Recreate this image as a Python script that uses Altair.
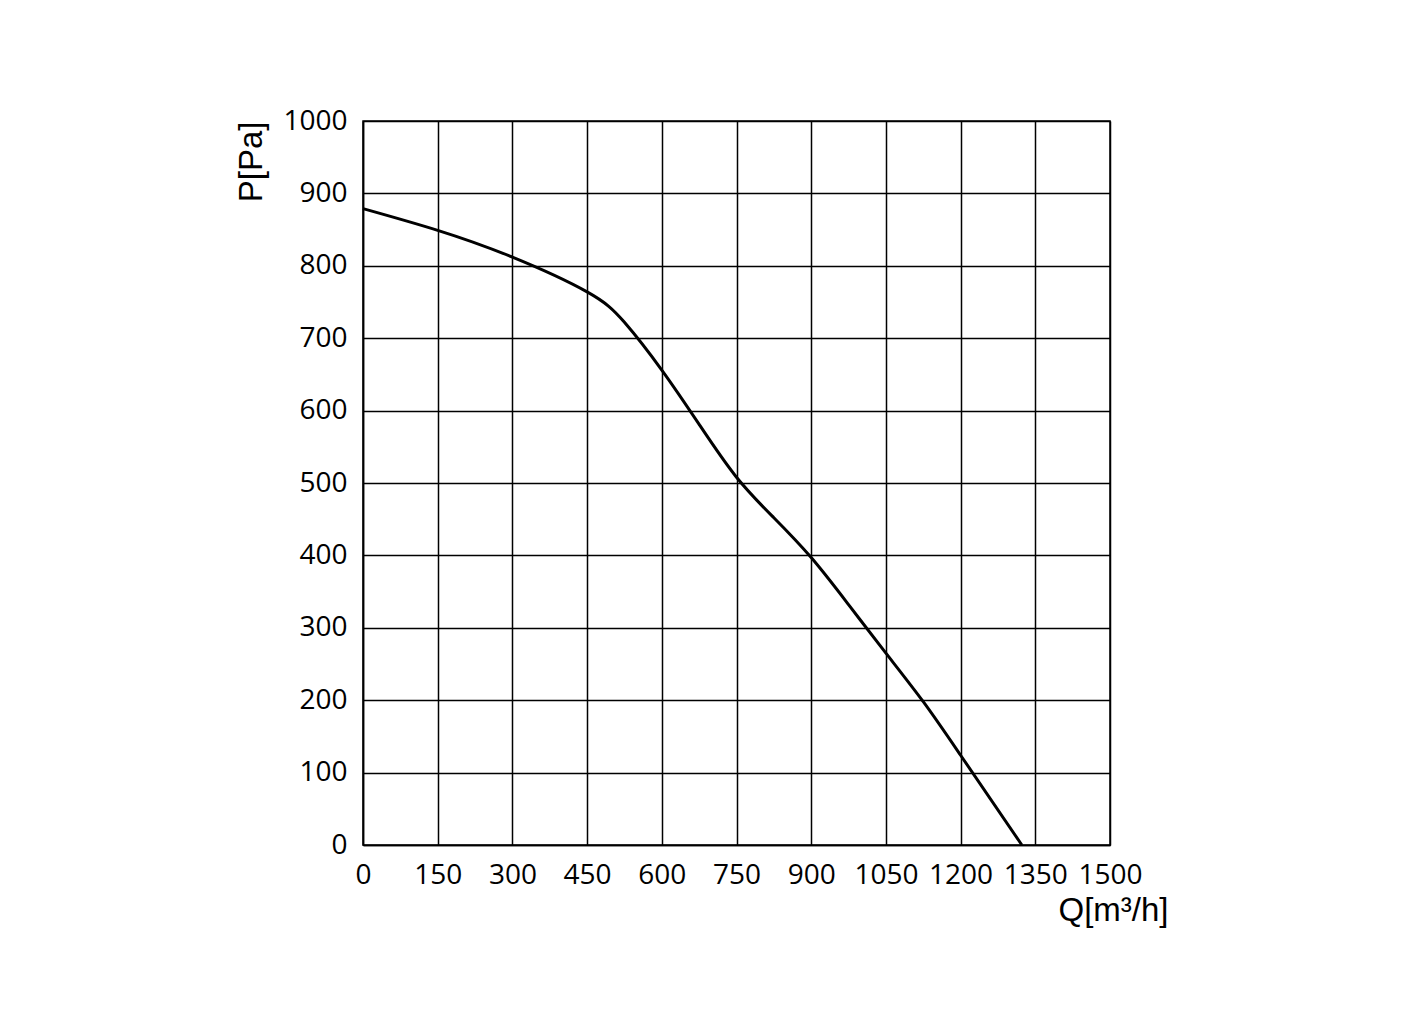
import altair as alt
import pandas as pd

# fan curve: flow Q [m3/h] vs pressure P [Pa]
flow = [0, 150, 300, 450, 525, 600, 675, 750, 825, 900, 975, 1050,
        1125, 1200, 1323]
pressure = [879, 849, 812, 764, 722, 656, 581, 508, 452, 397, 332, 265,
            198, 124, 0]

x_ticks = [0, 150, 300, 450, 600, 750, 900, 1050, 1200, 1350, 1500]
y_ticks = [0, 100, 200, 300, 400, 500, 600, 700, 800, 900, 1000]

df = pd.DataFrame({'Q': flow, 'P': pressure})

chart = alt.Chart(df).mark_line(
    color='black', strokeWidth=3, interpolate='natural'
).encode(
    x=alt.X('Q:Q', title='Q[m³/h]',
            scale=alt.Scale(domain=[0, 1500], nice=False),
            axis=alt.Axis(values=x_ticks, grid=True, ticks=False, format='d',
                          labelFlush=False, labelOverlap=False,
                          labelPadding=16, titleX=805, titleY=49,
                          titleAlign='right', titleAnchor='end')),
    y=alt.Y('P:Q', title='P[Pa]',
            scale=alt.Scale(domain=[0, 1000], nice=False),
            axis=alt.Axis(values=y_ticks, grid=True, ticks=False, format='d',
                          labelFlush=False, labelOverlap=False,
                          labelPadding=16, titleX=-112, titleY=0,
                          titleAlign='right', titleAnchor='end',
                          titleBaseline='middle')),
).properties(
    width=747,
    height=724,
    autosize=alt.AutoSizeParams(type='none'),
    padding={'left': 355, 'top': 113, 'right': 290, 'bottom': 170},
).configure_view(
    stroke='black', strokeWidth=1.5
).configure_axis(
    gridColor='black', gridWidth=1.5, gridOpacity=1,
    domainColor='black', domainWidth=1.5,
    labelFont='Open Sans', labelFontSize=28, labelColor='black',
    titleFont='Liberation Sans', titleFontSize=33, titleColor='black',
    titleFontWeight='normal',
)

chart.save('out.html', embed_options={'renderer': 'svg', 'actions': False})
